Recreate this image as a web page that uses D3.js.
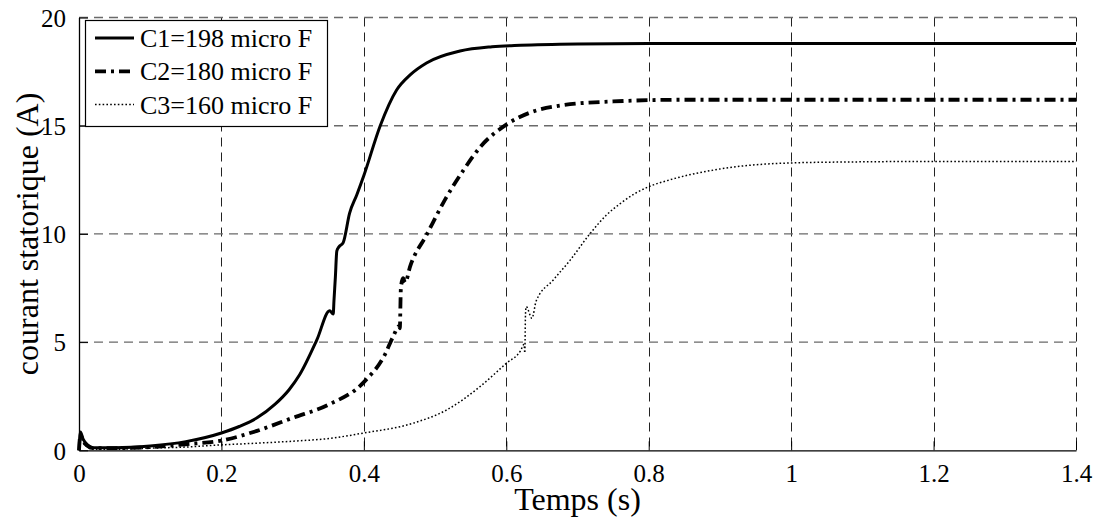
<!DOCTYPE html>
<html>
<head>
<meta charset="utf-8">
<script src="https://cdn.jsdelivr.net/npm/d3@7"></script>
<style>
  body { margin: 0; background: #fff; }
  svg { display: block; }
</style>
</head>
<body>
<svg id="chart" width="1098" height="519"></svg>
<script>
// ---- data ----
const xTicks = [0, 0.2, 0.4, 0.6, 0.8, 1, 1.2, 1.4];
const yTicks = [0, 5, 10, 15, 20];
const seriesNames = ["C1=198 micro F", "C2=180 micro F", "C3=160 micro F"];

const c1Time = [0, 0.002, 0.006, 0.012, 0.02, 0.05, 0.1, 0.15, 0.2, 0.225, 0.25, 0.275, 0.295, 0.31, 0.334, 0.352, 0.357, 0.358, 0.36, 0.362, 0.365, 0.371, 0.38, 0.39, 0.4, 0.423, 0.446, 0.465, 0.488, 0.535, 0.58, 0.62, 0.7, 0.8, 1.0, 1.2, 1.4];
const c1Current = [0, 0.85, 0.5, 0.25, 0.12, 0.12, 0.2, 0.4, 0.8, 1.1, 1.5, 2.12, 2.8, 3.5, 5.1, 6.45, 6.3, 6.9, 8.0, 9.2, 9.4, 9.6, 10.96, 11.8, 12.7, 15.0, 16.65, 17.35, 17.9, 18.45, 18.65, 18.72, 18.78, 18.8, 18.8, 18.8, 18.8];

const c2Time = [0, 0.002, 0.006, 0.012, 0.02, 0.05, 0.1, 0.15, 0.2, 0.25, 0.3, 0.35, 0.4, 0.43, 0.441, 0.45, 0.4505, 0.452, 0.455, 0.458, 0.465, 0.488, 0.516, 0.54, 0.563, 0.6, 0.633, 0.68, 0.75, 0.85, 1.0, 1.2, 1.4];
const c2Current = [0, 0.7, 0.4, 0.2, 0.1, 0.1, 0.15, 0.28, 0.45, 0.9, 1.5, 2.1, 3.15, 4.45, 5.25, 5.75, 5.64, 7.5, 7.95, 7.75, 8.5, 9.95, 11.7, 12.95, 14.0, 15.05, 15.6, 15.95, 16.12, 16.2, 16.2, 16.2, 16.2];

const c3Time = [0, 0.002, 0.006, 0.012, 0.02, 0.05, 0.1, 0.15, 0.2, 0.25, 0.3, 0.352, 0.4, 0.469, 0.516, 0.563, 0.6, 0.62, 0.625, 0.626, 0.627, 0.628, 0.636, 0.642, 0.666, 0.69, 0.718, 0.74, 0.76, 0.78, 0.8, 0.83, 0.9, 1.0, 1.1, 1.2, 1.4];
const c3Current = [0, 0.6, 0.35, 0.15, 0.05, 0.05, 0.1, 0.15, 0.25, 0.33, 0.42, 0.55, 0.8, 1.25, 1.86, 2.94, 4.02, 4.6, 4.9, 4.5, 6.3, 6.64, 6.1, 6.9, 7.87, 8.8, 10.03, 10.85, 11.4, 11.85, 12.18, 12.5, 13.0, 13.28, 13.33, 13.35, 13.35];

// ---- layout ----
const FONT = '"Liberation Serif", "Times New Roman", Times, serif';
const svg = d3.select("#chart");
const mLeft = 79, mRight = 1076, mTop = 17.5, mBottom = 450.3;
const x = d3.scaleLinear().domain([0, 1.4]).range([mLeft, mRight]);
const y = d3.scaleLinear().domain([0, 20]).range([mBottom, mTop]);

// grid
const grid = svg.append("g");
grid.selectAll("line.v").data(xTicks.slice(1)).join("line")
  .attr("x1", d => Math.round(x(d)) + 0.5).attr("x2", d => Math.round(x(d)) + 0.5)
  .attr("y1", mTop).attr("y2", mBottom)
  .attr("stroke", "#222").attr("stroke-width", 1).attr("stroke-dasharray", "9,6");
grid.selectAll("line.h").data(yTicks.slice(1)).join("line")
  .attr("x1", mLeft).attr("x2", mRight)
  .attr("y1", d => y(d)).attr("y2", d => y(d))
  .attr("stroke", "#6a6a6a").attr("stroke-width", 1.4).attr("stroke-dasharray", "9,6");

// axes
const xAxis = d3.axisBottom(x).tickValues(xTicks).tickSizeInner(-9).tickSizeOuter(0).tickPadding(14)
  .tickFormat(d => d3.format("")(d));
const gx = svg.append("g").attr("transform", `translate(0,${mBottom})`).call(xAxis);
const yAxis = d3.axisLeft(y).tickValues(yTicks).tickSizeInner(-9).tickSizeOuter(0).tickPadding(13);
const gy = svg.append("g").attr("transform", `translate(${mLeft},0)`).call(yAxis);
[gx, gy].forEach(g => {
  g.attr("font-family", FONT).attr("font-size", 25);
  g.select(".domain").attr("stroke", "#000").attr("stroke-width", 1.3);
  g.selectAll(".tick line").attr("stroke", "#000").attr("stroke-width", 1);
  g.selectAll(".tick text").attr("font-family", FONT).attr("font-size", 25).attr("fill", "#000");
});
gx.selectAll(".tick text").attr("dy", "0.72em");
gy.selectAll(".tick text").attr("dy", "0.35em");

// lines
const styles = [
  { w: 3, dash: null },
  { w: 3.8, dash: "11,5,3,5" },
  { w: 1.5, dash: "1.6,2.2" }
];
const data = [
  c1Time.map((t, i) => [t, c1Current[i]]),
  c2Time.map((t, i) => [t, c2Current[i]]),
  c3Time.map((t, i) => [t, c3Current[i]])
];
const line = d3.line().x(d => x(d[0])).y(d => y(d[1])).curve(d3.curveMonotoneX);
data.forEach((s, i) => {
  svg.append("path").datum(s).attr("d", line)
    .attr("fill", "none").attr("stroke", "#000")
    .attr("stroke-width", styles[i].w)
    .attr("stroke-linejoin", "round")
    .attr("stroke-dasharray", styles[i].dash);
});

// axis titles
svg.append("text").attr("x", (mLeft + mRight) / 2).attr("y", 510)
  .attr("text-anchor", "middle").attr("font-family", FONT).attr("font-size", 32).text("Temps (s)");
svg.append("text").attr("transform", `translate(38,${(mTop + mBottom) / 2}) rotate(-90)`)
  .attr("text-anchor", "middle").attr("font-family", FONT).attr("font-size", 32).text("courant statorique (A)");

// legend
const lg = svg.append("g");
lg.append("rect").attr("x", 85.5).attr("y", 20.5).attr("width", 242).attr("height", 106)
  .attr("fill", "#fff").attr("stroke", "#000").attr("stroke-width", 1.2);
seriesNames.forEach((name, i) => {
  const yy = 38 + i * 33.3;
  lg.append("line").attr("x1", 95).attr("x2", 134).attr("y1", yy).attr("y2", yy)
    .attr("stroke", "#000").attr("stroke-width", styles[i].w)
    .attr("stroke-dasharray", styles[i].dash);
  lg.append("text").attr("x", 140).attr("y", yy).attr("dy", "0.35em")
    .attr("font-family", FONT).attr("font-size", 26).text(name);
});
</script>
</body>
</html>
